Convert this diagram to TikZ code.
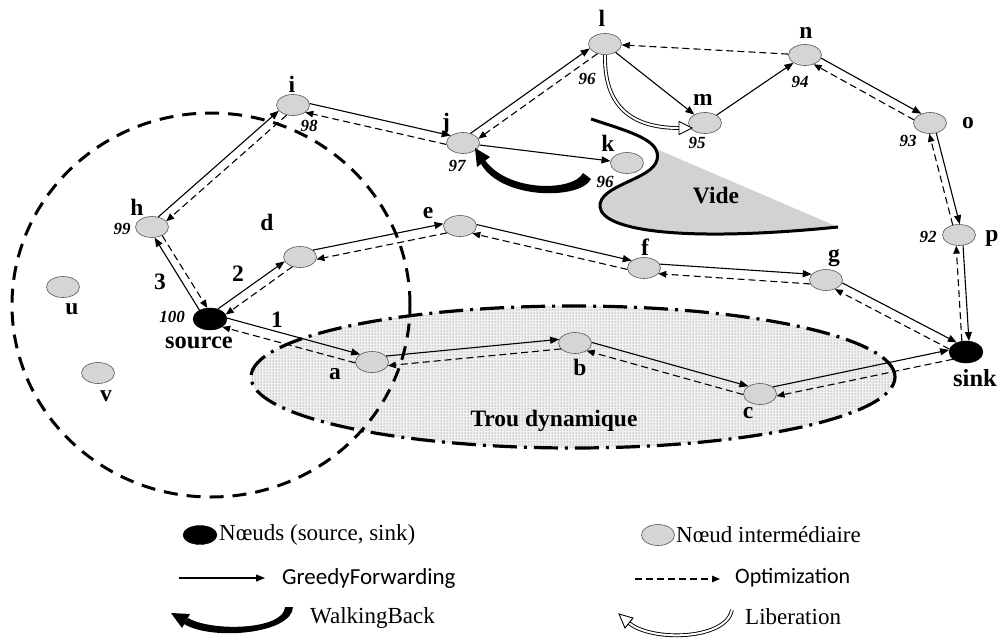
\documentclass[tikz,border=0pt]{standalone}
\usepackage{fontspec}
\setmainfont{Liberation Serif}
\newfontfamily\sansf{Carlito}
\usetikzlibrary{shapes.geometric,arrows.meta,patterns,calc}
\newcommand\biedge[2]{%
  \pgfmathanglebetweenpoints{\pgfpointanchor{#1}{center}}{\pgfpointanchor{#2}{center}}%
  \edef\bang{\pgfmathresult}%
  \pgfmathtruncatemacro\angA{mod(\bang+18+720,360)}%
  \pgfmathtruncatemacro\angB{mod(\bang+162+720,360)}%
  \pgfmathtruncatemacro\angC{mod(\bang+198+720,360)}%
  \pgfmathtruncatemacro\angD{mod(\bang-18+720,360)}%
  \draw[fwd] (#1.\angA) -- (#2.\angB);
  \draw[opt] (#2.\angC) -- (#1.\angD);
}
\begin{document}
\begin{tikzpicture}[x=1pt,y=-1pt,
  nd/.style={ellipse,draw=black!65,fill=gray!33,minimum width=33pt,minimum height=21pt,inner sep=0pt,line width=0.6pt},
  bk/.style={ellipse,fill=black,draw=black,minimum width=34pt,minimum height=22pt,inner sep=0pt},
  lbl/.style={font=\fontsize{23.5}{23.5}\selectfont\bfseries,inner sep=0pt},
  num/.style={font=\fontsize{17}{17}\selectfont\bfseries\itshape,inner sep=0pt},
  leg/.style={font=\fontsize{23}{23}\selectfont,inner sep=0pt,anchor=west},
  legs/.style={font=\fontsize{23}{23}\sansf\selectfont,inner sep=0pt,anchor=west},
  fwd/.style={line width=1.1pt,-{Triangle[length=9pt,width=7pt]}},
  opt/.style={line width=1.1pt,dash pattern=on 7pt off 4pt,-{Triangle[length=8pt,width=6.5pt]}},
  lib/.style={double=white,double distance=2pt,line width=0.9pt},
  libhead/.style={draw=black,fill=white,line width=0.9pt,line join=miter},
]
\useasboundingbox (0,0) rectangle (998,637);
% dynamic hole
\fill[gray!12] (573,377) ellipse [x radius=322pt,y radius=71pt];
\fill[pattern=dots,pattern color=black!60] (573,377) ellipse [x radius=322pt,y radius=71pt];
\draw[line width=3.2pt,dash pattern=on 24pt off 7pt on 3pt off 7pt] (573,377) ellipse [x radius=322pt,y radius=71pt];
% radio range
\draw[line width=3pt,dash pattern=on 14pt off 9pt] (211,305) ellipse [x radius=199pt,y radius=192pt];
% void
\fill[gray!35] (654,148) -- (657,160) .. controls (652,180) and (598,185) .. (600,207) .. controls (603,232) and (690,242) .. (838,227) -- cycle;
\draw[line width=3pt] (591,119) .. controls (630,132) and (662,140) .. (657,160) .. controls (652,180) and (598,185) .. (600,207) .. controls (603,232) and (690,242) .. (838,227);
\node[lbl] (vide) at (716,196) {Vide};
\node[lbl] (trou) at (554,421) {Trou dynamique};
% nodes
\node[bk] (source) at (210,319) {};
\node[bk] (sink) at (966,352) {};
\node[nd] (a) at (372,362) {};
\node[nd] (b) at (575,343) {};
\node[nd] (c) at (760,394) {};
\node[nd] (d) at (300,257) {};
\node[nd] (e) at (460,226) {};
\node[nd] (f) at (644,268) {};
\node[nd] (g) at (826,280) {};
\node[nd] (h) at (152,227) {};
\node[nd] (i) at (293,105) {};
\node[nd] (j) at (463,143) {};
\node[nd] (k) at (627,163) {};
\node[nd] (l) at (605,44) {};
\node[nd] (m) at (705,123) {};
\node[nd] (n) at (805,55) {};
\node[nd] (o) at (930,123) {};
\node[nd] (p) at (959,235) {};
\node[nd] (u) at (63,287) {};
\node[nd] (v) at (98,373) {};
% labels
\node[lbl] (la) at (335,374) {a};
\node[lbl] (lb) at (580,367) {b};
\node[lbl] (lc) at (748,413) {c};
\node[lbl] (ld) at (267,222) {d};
\node[lbl] (le) at (428,213) {e};
\node[lbl] (lf) at (645,247) {f};
\node[lbl] (lg) at (834,258) {g};
\node[lbl] (lh) at (137,207) {h};
\node[lbl] (li) at (292,84) {i};
\node[lbl] (lj) at (446,124) {j};
\node[lbl] (lk) at (608,143) {k};
\node[lbl] (ll) at (602,18) {l};
\node[lbl] (lm) at (703,100) {m};
\node[lbl] (ln) at (806,33) {n};
\node[lbl] (lo) at (968,123) {o};
\node[lbl] (lp) at (992,238) {p};
\node[lbl] (lu) at (72,309) {u};
\node[lbl] (lv) at (106,396) {v};
\node[lbl,font=\fontsize{24.5}{24.5}\selectfont\bfseries] (lsource) at (199,343) {source};
\node[lbl,font=\fontsize{24.5}{24.5}\selectfont\bfseries] (lsink) at (975,378) {sink};
\node[lbl] (e1) at (277,320) {1};
\node[lbl] (e2) at (238,274) {2};
\node[lbl] (e3) at (160,282) {3};
\node[num] (n96l) at (587,79) {96};
\node[num] (n97) at (457,166) {97};
\node[num] (n96k) at (605,182) {96};
\node[num] (n95) at (697,143) {95};
\node[num] (n94) at (800,82) {94};
\node[num] (n93) at (908,141) {93};
\node[num] (n92) at (928,237) {92};
\node[num] (n98) at (309,126) {98};
\node[num] (n99) at (122,229) {99};
\node[num] (n100) at (172,317) {100};
% edges
\biedge{source}{a}
\biedge{a}{b}
\biedge{b}{c}
\biedge{c}{sink}
\biedge{source}{d}
\biedge{d}{e}
\biedge{e}{f}
\biedge{f}{g}
\biedge{g}{sink}
\biedge{source}{h}
\biedge{h}{i}
\biedge{i}{j}
\biedge{j}{l}
\biedge{n}{o}
\biedge{o}{p}
\biedge{p}{sink}
\draw[fwd] (j) -- (k);
\draw[fwd] (l) -- (m);
\draw[fwd] (m) -- (n);
\draw[opt] (n) -- (l);
% liberation
\coordinate (libend) at (679,128);
\draw[lib] (l.south) .. controls (604,105) and (630,128) .. (libend);
\draw[libhead] (692,128) -- (679,121.5) -- (679,134.5) -- cycle;
% walking back
\fill (591,179) .. controls (580,200) and (502,200) .. (481,164) -- (485,160) .. controls (507,192) and (573,192) .. (583,173) -- cycle;
\fill (475,148) -- (490,157) -- (477,167) -- cycle;
% legend
\node[bk,minimum height=19pt] (lgsrc) at (200,535) {};
\node[leg] (tsrc) at (219,535) {Nœuds (source, sink)};
\node[nd] (lgint) at (658,535) {};
\node[leg] (tint) at (676,535) {Nœud intermédiaire};
\coordinate (gf1) at (179,578);
\coordinate (gf2) at (265,578);
\draw[fwd] (gf1) -- (gf2);
\node[legs] (tgf) at (282,578) {GreedyForwarding};
\coordinate (op1) at (635,579);
\coordinate (op2) at (720,579);
\draw[opt] (op1) -- (op2);
\node[legs,font=\fontsize{22}{22}\sansf\selectfont] (top) at (735,578) {Optimization};
\fill (293,607) .. controls (292,634) and (212,641) .. (184,624) -- (188,618) .. controls (212,632) and (284,630) .. (285,607) -- cycle;
\fill (171,613) -- (190,614) -- (182,628) -- cycle;
\node[leg] (twb) at (310,618) {WalkingBack};
\coordinate (lgl1) at (732,610);
\coordinate (lgl2) at (629,623);
\draw[lib] (lgl1) .. controls (726,640) and (652,642) .. (lgl2);
\draw[libhead] (619,614) -- (633,618) -- (625,628) -- cycle;
\node[leg] (tlib) at (745,617) {Liberation};
\end{tikzpicture}
\end{document}
